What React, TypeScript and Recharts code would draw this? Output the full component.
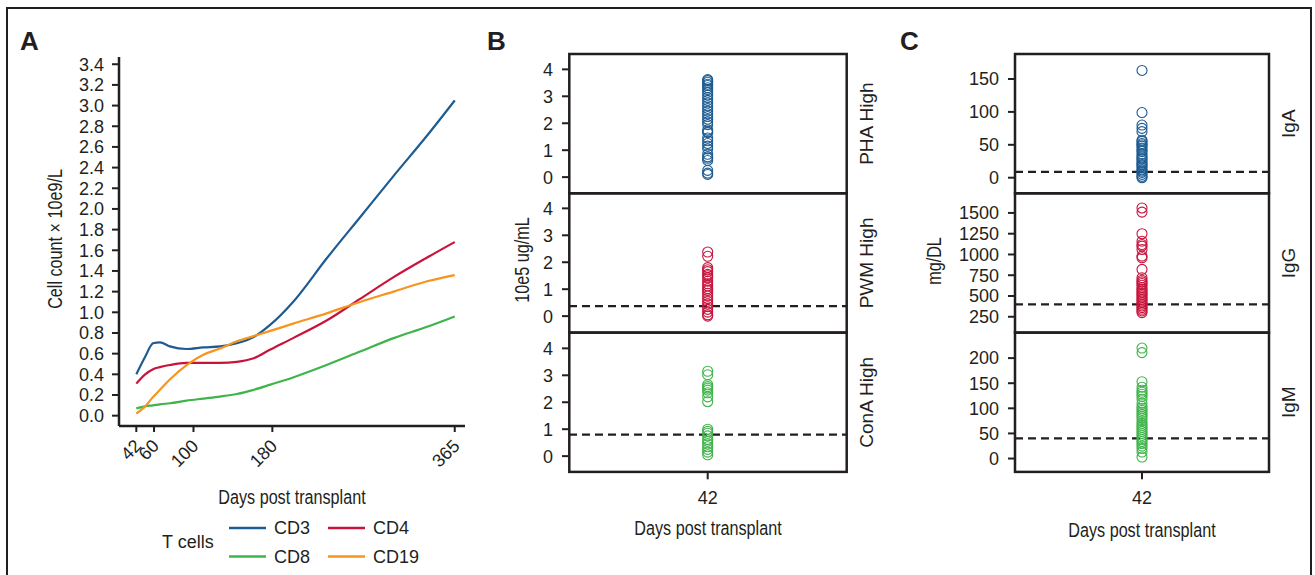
import React from 'react';
import { Line, LineChart, ReferenceLine, Scatter, ScatterChart, XAxis, YAxis } from 'recharts';

// Three panels: T/B-cell counts over time (A), mitogen response at day 42 (B),
// immunoglobulins at day 42 (C). Page is 1315x575, everything placed absolutely.
const INK = '#231f20';
const BLUE = '#1d5b92';
const RED = '#c8143c';
const GREEN = '#3fb44a';
const ORANGE = '#f7941e';
const SANS = '"Liberation Sans", Arial, sans-serif';

// ---- panel A ----
const days = [42, 51, 59, 66, 76, 93, 110, 127, 144, 161, 178, 201, 235, 269, 303, 337, 365];
const cd3 = [0.4, 0.57, 0.7, 0.71, 0.67, 0.645, 0.66, 0.67, 0.7, 0.76, 0.88, 1.1, 1.52, 1.92, 2.32, 2.71, 3.05];
const cd4 = [0.31, 0.4, 0.45, 0.47, 0.49, 0.51, 0.51, 0.51, 0.52, 0.555, 0.64, 0.75, 0.92, 1.13, 1.34, 1.53, 1.68];
const cd8 = [0.07, 0.09, 0.1, 0.11, 0.12, 0.145, 0.165, 0.185, 0.21, 0.25, 0.3, 0.37, 0.49, 0.62, 0.75, 0.86, 0.96];
const cd19 = [0.02, 0.09, 0.18, 0.25, 0.35, 0.49, 0.59, 0.65, 0.72, 0.77, 0.82, 0.89, 0.99, 1.1, 1.2, 1.3, 1.36];
const dayTicks = [42, 60, 100, 180, 365];
const countTicks = [0, 0.2, 0.4, 0.6, 0.8, 1, 1.2, 1.4, 1.6, 1.8, 2, 2.2, 2.4, 2.6, 2.8, 3, 3.2, 3.4];
const cellNames = ['CD3', 'CD4', 'CD8', 'CD19'];
const cellColors = [BLUE, RED, GREEN, ORANGE];

// ---- panel B (10e5 ug/mL) ----
const phaHigh = [3.62, 3.58, 3.52, 3.45, 3.4, 3.32, 3.25, 3.15, 3.05, 2.95, 2.85, 2.75, 2.65, 2.55, 2.45, 2.35, 2.25, 2.15, 2.05, 1.95, 1.75, 1.68, 1.65, 1.45, 1.35, 1.25, 1.15, 1.05, 0.85, 0.75, 0.7, 0.62, 0.25, 0.15, 0.1];
const pwmHigh = [2.38, 2.22, 1.8, 1.72, 1.65, 1.55, 1.5, 1.42, 1.3, 1.2, 1.12, 1.02, 0.95, 0.85, 0.75, 0.65, 0.55, 0.45, 0.35, 0.25, 0.15, 0.05, 0];
const conaHigh = [3.15, 3.02, 2.65, 2.58, 2.52, 2.45, 2.35, 2.2, 2.02, 1.0, 0.92, 0.85, 0.75, 0.62, 0.55, 0.45, 0.35, 0.25, 0.15, 0.05];
const pwmCut = 0.37;
const conaCut = 0.8;
const mitoTicks = [0, 1, 2, 3, 4];
const mitoNames = ['PHA High', 'PWM High', 'ConA High'];

// ---- panel C (mg/DL) ----
const igA = [163, 99, 80, 75, 70, 57, 55, 52, 50, 48, 45, 42, 40, 36, 33, 30, 28, 25, 22, 20, 18, 15, 12, 10, 8, 5, 2, 0];
const igG = [1560, 1510, 1250, 1160, 1120, 1100, 1060, 980, 960, 820, 720, 690, 670, 650, 630, 600, 580, 560, 540, 520, 500, 480, 460, 440, 420, 400, 380, 360, 340, 320, 300];
const igM = [220, 211, 153, 142, 136, 132, 128, 124, 118, 110, 104, 100, 96, 92, 88, 84, 80, 75, 70, 66, 62, 58, 54, 50, 46, 42, 38, 34, 30, 25, 20, 13, 3];
const igACut = 9;
const igGCut = 400;
const igMCut = 40;
const igNames = ['IgA', 'IgG', 'IgM'];

const rows = days.map((d, i) => ({ day: d, CD3: cd3[i], CD4: cd4[i], CD8: cd8[i], CD19: cd19[i] }));

const FACET_TOP = 54;
const FACET_H = 139.3;

// no condensed face installed: squeeze Liberation Sans horizontally instead
function Narrow({ x, y, rot = 0, children }: { x: number; y: number; rot?: number; children: React.ReactNode }) {
  return (
    <text
      transform={`translate(${x},${y}) rotate(${rot}) scale(0.77,1)`}
      textAnchor="middle"
      fontFamily={SANS}
      fontSize={21}
      fill={INK}
    >
      {children}
    </text>
  );
}

function RotTick(props: any) {
  const { x, y, payload } = props;
  return (
    <g transform={`translate(${x - 3},${y})`}>
      <text transform="rotate(-45)" textAnchor="end" dy="0.71em" fill={INK} fontSize={18} fontFamily={SANS}>
        {payload.value}
      </text>
    </g>
  );
}

const ring = (color: string) => (p: any) => (
  <circle cx={p.cx} cy={p.cy} r={5} fill="none" stroke={color} strokeWidth={1.1} />
);

type FacetProps = {
  idx: number;
  plotLeft: number;
  plotRight: number;
  values: number[];
  color: string;
  domain: [number, number];
  ticks: number[];
  cut?: number;
  last?: boolean;
};

function Facet({ idx, plotLeft, plotRight, values, color, domain, ticks, cut, last }: FacetProps) {
  const axisW = 90;
  const top = FACET_TOP + idx * FACET_H;
  const xH = last ? 40 : 0;
  const data = values.map((v) => ({ day: 42, v }));
  return (
    <div style={{ position: 'absolute', left: plotLeft - axisW, top }}>
      <ScatterChart
        width={plotRight - plotLeft + axisW}
        height={FACET_H + xH}
        margin={{ top: 0, right: 0, bottom: 0, left: 0 }}
      >
        <XAxis
          type="number"
          dataKey="day"
          domain={[41, 43]}
          ticks={[42]}
          interval={0}
          hide={!last}
          height={xH}
          axisLine={false}
          tickSize={7}
          tickMargin={12}
          tickLine={{ stroke: INK, strokeWidth: 2 }}
          tick={{ fill: INK, fontSize: 18, fontFamily: SANS }}
        />
        <YAxis
          type="number"
          dataKey="v"
          domain={domain}
          allowDataOverflow
          ticks={ticks}
          interval={0}
          width={axisW}
          axisLine={false}
          tickSize={7}
          tickMargin={9}
          tickLine={{ stroke: INK, strokeWidth: 2 }}
          tick={{ fill: INK, fontSize: 18, fontFamily: SANS }}
        />
        {cut !== undefined && (
          <ReferenceLine y={cut} stroke={INK} strokeWidth={2.2} strokeDasharray="8 5" />
        )}
        <Scatter data={data} shape={ring(color)} isAnimationActive={false} />
      </ScatterChart>
    </div>
  );
}

const B_L = 569.3;
const B_R = 846.7;
const C_L = 1015;
const C_R = 1269;

export default function App() {
  const facetFrames = [B_L, C_L].flatMap((l, k) =>
    [0, 1, 2].map((i) => (
      <rect
        key={`${k}-${i}`}
        x={l}
        y={FACET_TOP + i * FACET_H}
        width={(k === 0 ? B_R : C_R) - l}
        height={FACET_H}
        fill="none"
        stroke={INK}
        strokeWidth={2.5}
      />
    ))
  );

  return (
    <div style={{ position: 'absolute', left: 0, top: 0, width: 1315, height: 575, background: '#fff', overflow: 'hidden' }}>
      {/* A */}
      <div style={{ position: 'absolute', left: 0, top: 0 }}>
        <LineChart width={480} height={470} data={rows} margin={{ top: 57, right: 15, bottom: 0, left: 0 }}>
          <XAxis
            type="number"
            dataKey="day"
            domain={[24.45, 375.4]}
            allowDataOverflow
            ticks={dayTicks}
            interval={0}
            height={44}
            axisLine={{ stroke: INK, strokeWidth: 2.5 }}
            tickLine={{ stroke: INK, strokeWidth: 2 }}
            tickSize={6}
            tickMargin={6}
            tick={<RotTick />}
          />
          <YAxis
            type="number"
            domain={[-0.1, 3.47]}
            allowDataOverflow
            ticks={countTicks}
            interval={0}
            width={119}
            axisLine={{ stroke: INK, strokeWidth: 2.5 }}
            tickLine={{ stroke: INK, strokeWidth: 2 }}
            tickSize={7}
            tickMargin={8}
            tickFormatter={(v: number) => v.toFixed(1)}
            tick={{ fill: INK, fontSize: 18, fontFamily: SANS }}
          />
          {cellNames.map((n, i) => (
            <Line key={n} type="monotone" dataKey={n} stroke={cellColors[i]} strokeWidth={2.2} dot={false} isAnimationActive={false} />
          ))}
        </LineChart>
      </div>

      {/* B */}
      <Facet idx={0} plotLeft={B_L} plotRight={B_R} values={phaHigh} color={BLUE} domain={[-0.6, 4.57]} ticks={mitoTicks} />
      <Facet idx={1} plotLeft={B_L} plotRight={B_R} values={pwmHigh} color={RED} domain={[-0.6, 4.57]} ticks={mitoTicks} cut={pwmCut} />
      <Facet idx={2} plotLeft={B_L} plotRight={B_R} values={conaHigh} color={GREEN} domain={[-0.6, 4.57]} ticks={mitoTicks} cut={conaCut} last />

      {/* C */}
      <Facet idx={0} plotLeft={C_L} plotRight={C_R} values={igA} color={BLUE} domain={[-23.7, 188]} ticks={[0, 50, 100, 150]} cut={igACut} />
      <Facet idx={1} plotLeft={C_L} plotRight={C_R} values={igG} color={RED} domain={[63, 1740]} ticks={[250, 500, 750, 1000, 1250, 1500]} cut={igGCut} />
      <Facet idx={2} plotLeft={C_L} plotRight={C_R} values={igM} color={GREEN} domain={[-27.4, 250]} ticks={[0, 50, 100, 150, 200]} cut={igMCut} last />

      {/* frames, titles, legend */}
      <svg width={1315} height={575} style={{ position: 'absolute', left: 0, top: 0, pointerEvents: 'none' }}>
        <rect x={7} y={8} width={1304} height={620} fill="none" stroke={INK} strokeWidth={2} />
        {facetFrames}

        <g fontFamily={SANS} fontWeight="bold" fontSize={26} fill={INK}>
          <text x={20} y={50}>A</text>
          <text x={487} y={50}>B</text>
          <text x={900} y={50}>C</text>
        </g>

        <Narrow x={62} y={239} rot={-90}>Cell count × 10e9/L</Narrow>
        <Narrow x={292} y={504}>Days post transplant</Narrow>
        <Narrow x={529} y={260} rot={-90}>10e5 ug/mL</Narrow>
        <Narrow x={708} y={535}>Days post transplant</Narrow>
        <Narrow x={941} y={261} rot={-90}>mg/DL</Narrow>
        <Narrow x={1142} y={537}>Days post transplant</Narrow>

        <g fontFamily={SANS} fontSize={19} fill={INK} textAnchor="middle">
          {mitoNames.map((s, i) => (
            <text key={s} transform={`translate(866,${FACET_TOP + FACET_H * (i + 0.5)}) rotate(-90)`} dominantBaseline="central">{s}</text>
          ))}
          {igNames.map((s, i) => (
            <text key={s} transform={`translate(1288,${FACET_TOP + FACET_H * (i + 0.5)}) rotate(-90)`} dominantBaseline="central">{s}</text>
          ))}
        </g>

        <g fontFamily={SANS} fontSize={18} fill={INK}>
          <text x={162} y={548}>T cells</text>
          {cellNames.map((n, i) => {
            const col = i % 2;
            const row = Math.floor(i / 2);
            const lx = 229 + col * 99;
            const ly = 528 + row * 28.5;
            return (
              <g key={n}>
                <line x1={lx} x2={lx + 37} y1={ly} y2={ly} stroke={cellColors[i]} strokeWidth={2.5} />
                <text x={lx + 45} y={ly + 6}>{n}</text>
              </g>
            );
          })}
        </g>
      </svg>
    </div>
  );
}
